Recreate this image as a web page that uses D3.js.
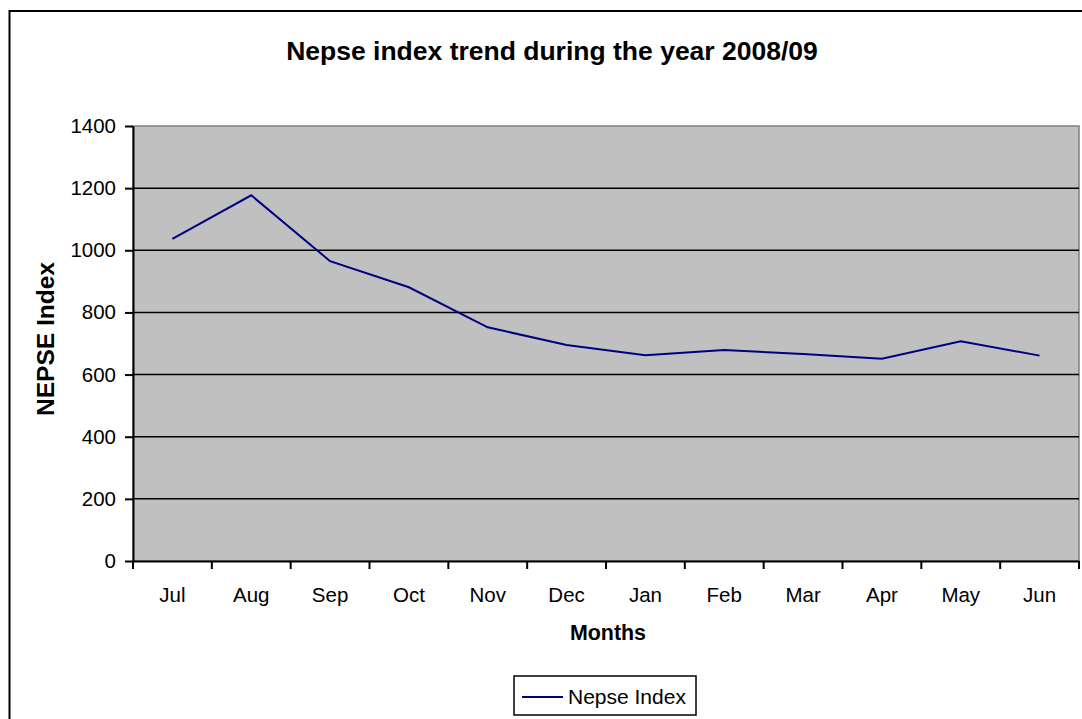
<!DOCTYPE html>
<html>
<head>
<meta charset="utf-8">
<script src="https://cdn.jsdelivr.net/npm/d3@7"></script>
<style>
  body { margin: 0; background: #fff; }
  text { font-family: "Liberation Sans", Arial, sans-serif; }
</style>
</head>
<body>
<script>
 // monthly nepse index
 const months = ['Jul','Aug','Sep','Oct','Nov','Dec','Jan','Feb','Mar','Apr','May','Jun'];
 const nepse = [1037, 1177, 965, 881, 752, 695, 662, 679, 666, 651, 707, 661];
 const yTicks = [0, 200, 400, 600, 800, 1000, 1200, 1400];

 // constants
 const width = 1082;
 const height = 719;
 const margin = { top: 126, bottom: 158, left: 133, right: 3 };
 const font = '"Liberation Sans", Arial, sans-serif';

 const svg = d3.select('body').append('svg')
       .attr('width', width).attr('height', height);

 // outer chart border (cut off right and bottom like the source)
 svg.append('rect').attr('x', 9.5).attr('y', 11).attr('width', width + 20).attr('height', height + 20)
    .style('fill', 'none').style('stroke', '#000').style('stroke-width', 2);

 const xScale = d3.scaleBand().domain(months).range([margin.left, width - margin.right]);
 const yScale = d3.scaleLinear().domain([0, 1400]).range([height - margin.bottom, margin.top]);

 // plot area
 svg.append('rect')
    .attr('x', margin.left).attr('y', margin.top)
    .attr('width', width - margin.right - margin.left)
    .attr('height', height - margin.bottom - margin.top)
    .style('fill', '#c0c0c0').style('stroke', '#808080').style('stroke-width', 1.5);

 // gridlines
 svg.append('g').selectAll('line').data(yTicks.filter(d => d > 0 && d < 1400)).enter().append('line')
    .attr('x1', margin.left).attr('x2', width - margin.right)
    .attr('y1', d => yScale(d)).attr('y2', d => yScale(d))
    .style('stroke', '#000').style('stroke-width', 1.5);

 // y axis
 const yAxis = svg.append('g').attr('transform', `translate(${margin.left},0)`)
    .call(d3.axisLeft(yScale).tickValues(yTicks).tickFormat(d3.format('d')).tickSize(8).tickSizeOuter(0).tickPadding(9));
 yAxis.selectAll('line, path').style('stroke', '#000').style('stroke-width', 2);
 yAxis.selectAll('text').style('font-size', '20.5px').style('font-family', font).attr('fill', '#000');

 // x axis with ticks on band edges
 const xAxis = svg.append('g').attr('transform', `translate(0,${height - margin.bottom})`)
    .call(d3.axisBottom(xScale).tickSize(0).tickPadding(26));
 xAxis.select('.domain').style('stroke', '#000').style('stroke-width', 2);
 xAxis.selectAll('text').style('font-size', '20.5px').style('font-family', font).attr('fill', '#000');
 xAxis.selectAll('.edge').data(d3.range(months.length + 1)).enter().append('line')
    .attr('class', 'edge')
    .attr('x1', i => margin.left + i * xScale.bandwidth()).attr('x2', i => margin.left + i * xScale.bandwidth())
    .attr('y1', 0).attr('y2', 8)
    .style('stroke', '#000').style('stroke-width', 2);

 // line
 const line = d3.line().x((d, i) => xScale(months[i]) + xScale.bandwidth() / 2).y(d => yScale(d));
 svg.append('path').datum(nepse).attr('d', line)
    .style('fill', 'none').style('stroke', '#000080').style('stroke-width', 2);

 // titles
 svg.append('text').attr('x', 552).attr('y', 60).attr('text-anchor', 'middle')
    .style('font-size', '26.5px').style('font-weight', 'bold').text('Nepse index trend during the year 2008/09');
 svg.append('text').attr('x', 608).attr('y', 640).attr('text-anchor', 'middle')
    .style('font-size', '21.4px').style('font-weight', 'bold').text('Months');
 svg.append('text').attr('transform', 'translate(54,339) rotate(-90)').attr('text-anchor', 'middle')
    .style('font-size', '24.5px').style('font-weight', 'bold').text('NEPSE Index');

 // legend
 const legend = svg.append('g');
 legend.append('rect').attr('x', 514).attr('y', 676).attr('width', 182).attr('height', 39)
    .style('fill', '#fff').style('stroke', '#000').style('stroke-width', 1.5);
 legend.append('line').attr('x1', 522).attr('x2', 563).attr('y1', 697).attr('y2', 697)
    .style('stroke', '#000080').style('stroke-width', 2);
 legend.append('text').attr('x', 568).attr('y', 704).style('font-size', '21px').text('Nepse Index');
</script>
</body>
</html>
